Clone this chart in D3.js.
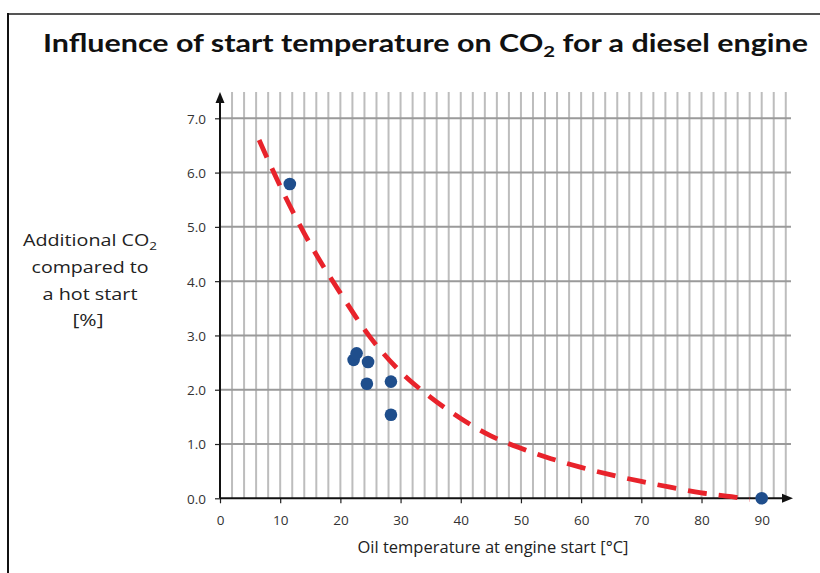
<!DOCTYPE html>
<html>
<head>
<meta charset="utf-8">
<script src="https://cdn.jsdelivr.net/npm/d3@7"></script>
<style>
  html, body { margin: 0; padding: 0; background: #fff; }
  svg { display: block; font-family: "Open Sans", Lato, sans-serif; }
</style>
</head>
<body>
<svg id="chart" width="820" height="573"></svg>
<script>
// Measured cold-start points: oil temperature (°C) and extra CO2 (%)
const pointTemps = [11.6, 22.2, 22.7, 24.6, 24.4, 28.4, 28.4, 90];
const pointCO2   = [5.79, 2.55, 2.67, 2.51, 2.11, 2.15, 1.54, 0.0];

// Trend curve through the measurements
const trendTemps = [6.5, 10, 15, 20, 25, 30, 35, 40, 45, 50, 55, 60, 65, 70, 75, 80, 85, 88];
const trendCO2   = [6.6, 5.75, 4.68, 3.78, 2.96, 2.33, 1.86, 1.47, 1.15, 0.92, 0.73, 0.57, 0.43, 0.31, 0.2, 0.1, 0.03, -0.02];

const xTicks = [0, 10, 20, 30, 40, 50, 60, 70, 80, 90];
const yTicks = [0, 1, 2, 3, 4, 5, 6, 7];
const xGrid  = d3.range(2, 96, 2);

const svg = d3.select("#chart");

// squeeze a text element to a given width
function fit(sel, width) {
  sel.attr("textLength", width).attr("lengthAdjust", "spacingAndGlyphs");
  return sel;
}

// outer frame (top and left edges visible)
svg.append("line").attr("x1", 7).attr("x2", 820).attr("y1", 14).attr("y2", 14)
  .attr("stroke", "#555").attr("stroke-width", 2);
svg.append("line").attr("x1", 8).attr("x2", 8).attr("y1", 13).attr("y2", 573)
  .attr("stroke", "#111").attr("stroke-width", 2);

const x = d3.scaleLinear().domain([0, 90]).range([220, 761.7]);
const y = d3.scaleLinear().domain([0, 7]).range([498.3, 118.3]);

const xEnd = x(95.2);
const yTop = 92;

// vertical grid every 2 °C
svg.append("g").selectAll("line").data(xGrid).join("line")
  .attr("x1", d => x(d)).attr("x2", d => x(d))
  .attr("y1", yTop).attr("y2", y(0))
  .attr("stroke", "#bdbdbd").attr("stroke-width", 2);

// horizontal grid
svg.append("g").selectAll("line").data(yTicks.filter(d => d > 0)).join("line")
  .attr("x1", x(0)).attr("x2", xEnd - 2)
  .attr("y1", d => y(d)).attr("y2", d => y(d))
  .attr("stroke", "#9a9a9a").attr("stroke-width", 2);

// axes
const xAxis = d3.axisBottom(x).tickValues(xTicks).tickSize(5).tickFormat(d3.format("d"));
const yAxis = d3.axisLeft(y).tickValues(yTicks).tickSize(5).tickFormat(d3.format(".1f"));

const gx = svg.append("g").attr("transform", `translate(0,${y(0)})`).call(xAxis);
const gy = svg.append("g").attr("transform", `translate(${x(0)},0)`).call(yAxis);

[gx, gy].forEach(g => {
  g.select(".domain").remove();
  g.selectAll(".tick line").attr("stroke", "#222").attr("stroke-width", 1.2);
  g.selectAll(".tick text").attr("fill", "#333")
    .style("font-family", "'Open Sans', sans-serif").style("font-size", "13.5px");
});
gx.selectAll(".tick text").attr("dy", null).attr("y", 27);
gy.selectAll(".tick text").attr("x", -14).attr("dy", "0.36em");

// axis lines with arrowheads
svg.append("line").attr("x1", x(0)).attr("x2", xEnd - 8).attr("y1", y(0)).attr("y2", y(0))
  .attr("stroke", "#111").attr("stroke-width", 2);
svg.append("path")
  .attr("d", `M${xEnd},${y(0)} L${xEnd - 11},${y(0) - 4.5} L${xEnd - 11},${y(0) + 4.5} Z`)
  .attr("fill", "#111");
svg.append("line").attr("x1", x(0)).attr("x2", x(0)).attr("y1", y(0)).attr("y2", yTop + 8)
  .attr("stroke", "#111").attr("stroke-width", 2);
svg.append("path")
  .attr("d", `M${x(0)},${yTop} L${x(0) - 4.5},${yTop + 11} L${x(0) + 4.5},${yTop + 11} Z`)
  .attr("fill", "#111");

// dashed trend curve
const trend = trendTemps.map((t, i) => [t, trendCO2[i]]);
svg.append("path")
  .datum(trend)
  .attr("d", d3.line().x(d => x(d[0])).y(d => y(d[1])).curve(d3.curveMonotoneX))
  .attr("fill", "none")
  .attr("stroke", "#e8232b")
  .attr("stroke-width", 4.8)
  .attr("stroke-dasharray", "19 12");

// measured points
svg.append("g").selectAll("circle").data(pointTemps.map((t, i) => [t, pointCO2[i]])).join("circle")
  .attr("cx", d => x(d[0])).attr("cy", d => y(d[1])).attr("r", 6.3)
  .attr("fill", "#1f4e8c");

// title
const title = svg.append("text")
  .attr("x", 43).attr("y", 52)
  .attr("fill", "#111")
  .style("font-family", "Lato, 'Open Sans', sans-serif")
  .style("font-weight", "bold").style("font-size", "24px");
title.append("tspan").text("Influence of start temperature on CO");
title.append("tspan").text("2").attr("dy", 5).style("font-size", "16px");
title.append("tspan").text(" for a diesel engine").attr("dy", -5);
fit(title, 765);

// y axis title
const yLab = svg.append("g").attr("fill", "#222").style("font-size", "16px").attr("text-anchor", "middle");
const l1 = yLab.append("text").attr("x", 90).attr("y", 246);
l1.append("tspan").text("Additional CO");
l1.append("tspan").text("2").attr("dy", 4).style("font-size", "11px");
fit(l1, 134);
fit(yLab.append("text").attr("x", 90).attr("y", 273).text("compared to"), 117);
fit(yLab.append("text").attr("x", 90).attr("y", 300).text("a hot start"), 95);
fit(yLab.append("text").attr("x", 88).attr("y", 326).text("[%]"), 31);

// x axis title
fit(svg.append("text")
  .attr("x", 493).attr("y", 553)
  .attr("text-anchor", "middle")
  .attr("fill", "#222")
  .style("font-size", "17px")
  .text("Oil temperature at engine start [°C]"), 271);
</script>
</body>
</html>
